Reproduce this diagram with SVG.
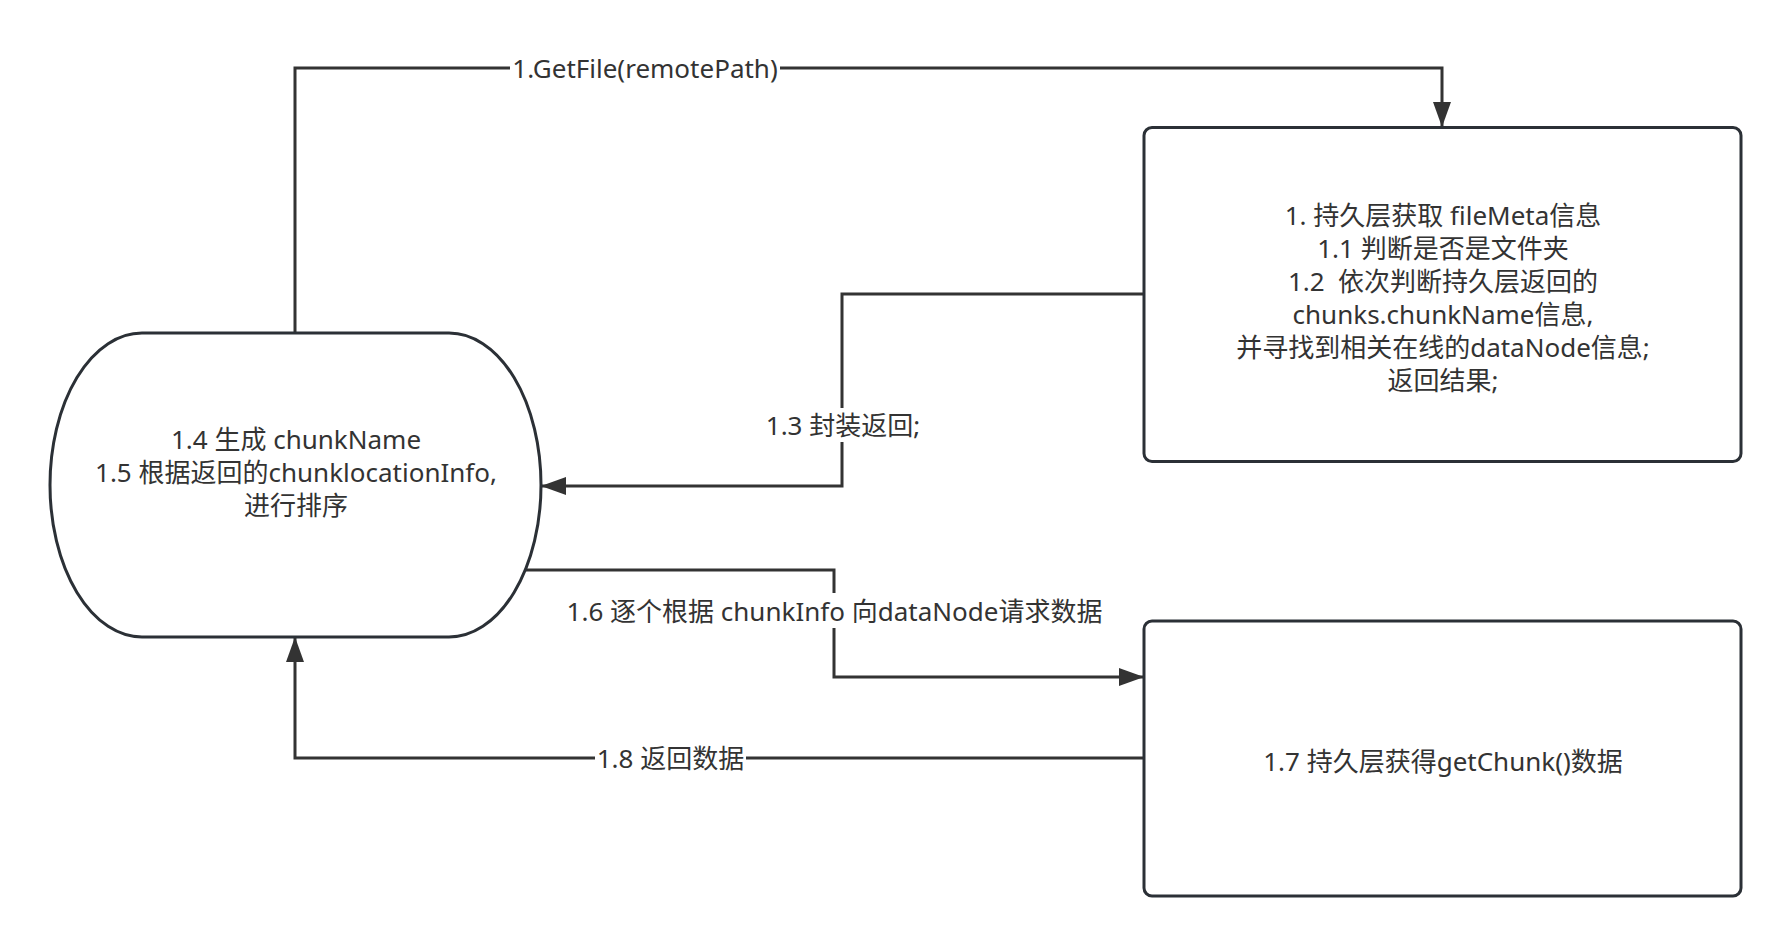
<svg xmlns="http://www.w3.org/2000/svg" width="1791" height="946" viewBox="0 0 1791 946">
<style>
.node{fill:#ffffff;stroke:#2b3036;stroke-width:3}
.edge{fill:none;stroke:#333333;stroke-width:3}
.t{font-family:"Noto Sans","Noto Sans CJK SC",sans-serif;font-size:26px;fill:#333333;text-anchor:middle;dominant-baseline:central}
.bg{fill:#ffffff}
</style>
<defs>
<marker id="arr" viewBox="0 0 25 18" refX="25" refY="9" markerWidth="25" markerHeight="18" markerUnits="userSpaceOnUse" orient="auto">
<path d="M0,0 L25,9 L0,18 z" fill="#333333"/>
</marker>
</defs>
<rect width="1791" height="946" fill="#ffffff"/>
<g id="connectors">
<path class="edge" d="M295,333 V68 H1442 V127" marker-end="url(#arr)"/>
<path class="edge" d="M1144,294 H842 V486 H541" marker-end="url(#arr)"/>
<path class="edge" d="M526,570 H834 V677 H1144" marker-end="url(#arr)"/>
<path class="edge" d="M1144,758 H295 V637" marker-end="url(#arr)"/>
<rect class="bg" x="510" y="52" width="270" height="32"/>
<text class="t" x="645" y="68">1.GetFile(remotePath)</text>
<rect class="bg" x="764" y="408" width="158" height="34"/>
<text class="t" x="843" y="425">1.3 封装返回;</text>
<rect class="bg" x="562" y="593" width="545" height="35"/>
<text class="t" x="834.5" y="611">1.6 逐个根据 chunkInfo 向dataNode请求数据</text>
<rect class="bg" x="595" y="742" width="151" height="32"/>
<text class="t" x="670.5" y="758">1.8 返回数据</text>
</g>
<g id="node-client">
<rect class="node" x="50" y="333" width="491" height="304" rx="92" ry="152"/>
<text class="t" x="296" y="439">1.4 生成 chunkName</text>
<text class="t" x="296" y="472">1.5 根据返回的chunklocationInfo,</text>
<text class="t" x="296" y="505">进行排序</text>
</g>
<g id="node-meta">
<rect class="node" x="1144" y="127.5" width="597" height="334" rx="8" ry="8"/>
<text class="t" x="1443" y="215">1. 持久层获取 fileMeta信息</text>
<text class="t" x="1443" y="248">1.1 判断是否是文件夹</text>
<text class="t" x="1443" y="281">1.2 &#160;依次判断持久层返回的</text>
<text class="t" x="1443" y="314">chunks.chunkName信息,</text>
<text class="t" x="1443" y="347">并寻找到相关在线的dataNode信息;</text>
<text class="t" x="1443" y="380">返回结果;</text>
</g>
<g id="node-data">
<rect class="node" x="1144" y="621" width="597" height="275" rx="8" ry="8"/>
<text class="t" x="1443" y="761">1.7 持久层获得getChunk()数据</text>
</g>
</svg>
